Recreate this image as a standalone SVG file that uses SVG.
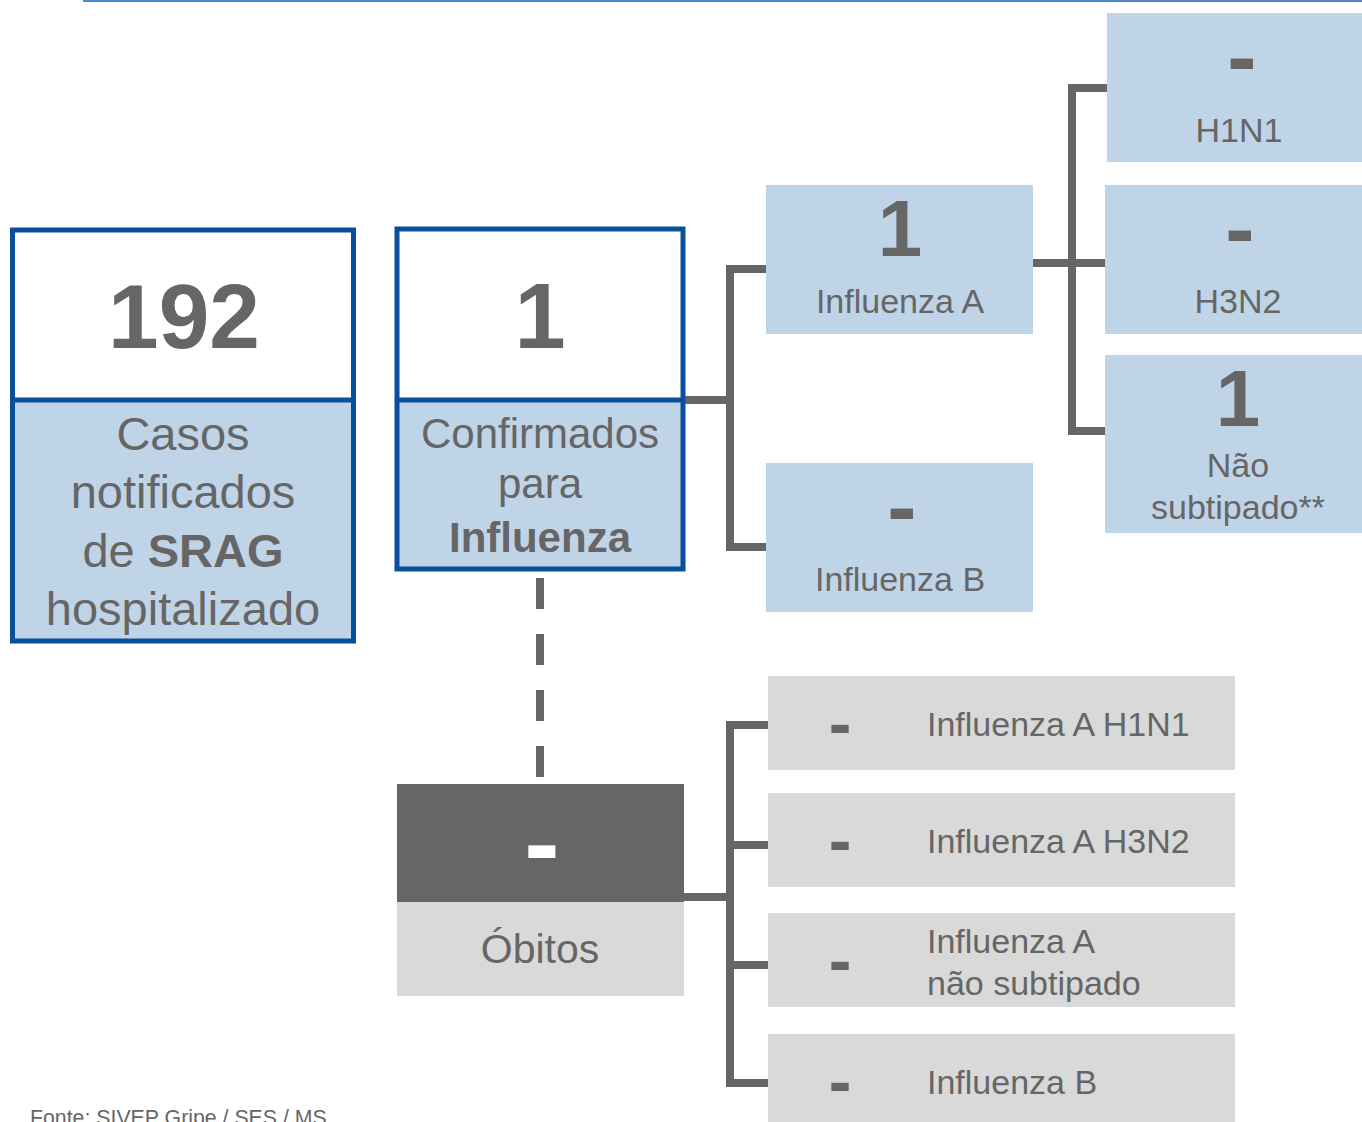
<svg xmlns="http://www.w3.org/2000/svg" width="1362" height="1122" viewBox="0 0 1362 1122">
<style>
text{font-family:"Liberation Sans",Arial,sans-serif;fill:#666666;text-anchor:middle}
.b{font-weight:bold}
.lb{fill:#c0d4e8}
.gr{fill:#d9d9d9}
.bd{fill:none;stroke:#0a4f9e;stroke-width:5}
.cn{fill:none;stroke:#666666;stroke-width:8}
.t34{font-size:34px}
.t33{font-size:34px}
.st{text-anchor:start}
</style>
<rect x="83" y="0" width="1279" height="2" fill="#4a86c8"/>
<g id="connectors">
<path class="cn" d="M683,400 H730"/>
<path class="cn" d="M766,269 H730 V547 H766"/>
<path class="cn" d="M1033,263 H1105"/>
<path class="cn" d="M1107,88 H1072 V431 H1105"/>
<path class="cn" d="M540,578 V778" stroke-dasharray="31 25"/>
<path class="cn" d="M684,897 H730"/>
<path class="cn" d="M768,725 H730 V1083 H768"/>
<path class="cn" d="M730,845 H768"/>
<path class="cn" d="M730,965 H768"/>
</g>
<g id="casos">
<rect x="12.5" y="230" width="341" height="170" fill="#ffffff"/>
<rect class="lb" x="12.5" y="400" width="341" height="241"/>
<rect class="bd" x="12.5" y="230" width="341" height="411"/>
<line x1="12.5" y1="400" x2="353.5" y2="400" stroke="#0a4f9e" stroke-width="5"/>
<text class="b" x="184" y="348" font-size="91">192</text>
<text x="183" y="450" font-size="47">Casos</text>
<text x="183" y="508" font-size="47">notificados</text>
<text x="183" y="567" font-size="47">de <tspan class="b">SRAG</tspan></text>
<text x="183" y="625" font-size="47">hospitalizado</text>
</g>
<g id="confirmados">
<rect x="397" y="229" width="286" height="171" fill="#ffffff"/>
<rect class="lb" x="397" y="400" width="286" height="169"/>
<rect class="bd" x="397" y="229" width="286" height="340"/>
<line x1="397" y1="400" x2="683" y2="400" stroke="#0a4f9e" stroke-width="5"/>
<text class="b" x="540" y="348" font-size="92">1</text>
<text x="540" y="448" font-size="42">Confirmados</text>
<text x="540" y="498" font-size="42">para</text>
<text class="b" x="540" y="552" font-size="42">Influenza</text>
</g>
<g id="influenza-a">
<rect class="lb" x="766" y="185" width="267" height="149"/>
<text class="b" x="900" y="256" font-size="80">1</text>
<text class="t34" x="900" y="313">Influenza A</text>
</g>
<g id="influenza-b">
<rect class="lb" x="766" y="463" width="267" height="149"/>
<text class="b" x="902" y="536" font-size="88">-</text>
<text class="t34" x="900" y="591">Influenza B</text>
</g>
<g id="h1n1">
<rect class="lb" x="1107" y="13" width="255" height="149"/>
<text class="b" x="1242" y="86" font-size="88">-</text>
<text class="t34" x="1239" y="142">H1N1</text>
</g>
<g id="h3n2">
<rect class="lb" x="1105" y="185" width="257" height="149"/>
<text class="b" x="1240" y="258" font-size="88">-</text>
<text class="t34" x="1238" y="313">H3N2</text>
</g>
<g id="nao-subtipado">
<rect class="lb" x="1105" y="355" width="257" height="178"/>
<text class="b" x="1238" y="426" font-size="80">1</text>
<text class="t34" x="1238" y="477">Não</text>
<text class="t34" x="1238" y="519">subtipado**</text>
</g>
<g id="obitos">
<rect x="397" y="784" width="287" height="118" fill="#666666"/>
<rect class="gr" x="397" y="902" width="287" height="94"/>
<text class="b" x="542" y="879" font-size="106" style="fill:#ffffff">-</text>
<text x="540" y="963" font-size="41">Óbitos</text>
</g>
<g id="obito-h1n1">
<rect class="gr" x="768" y="676" width="467" height="94"/>
<text class="b" x="840" y="747" font-size="68">-</text>
<text class="t33 st" x="927" y="736">Influenza A H1N1</text>
</g>
<g id="obito-h3n2">
<rect class="gr" x="768" y="793" width="467" height="94"/>
<text class="b" x="840" y="864" font-size="68">-</text>
<text class="t33 st" x="927" y="853">Influenza A H3N2</text>
</g>
<g id="obito-nao-subtipado">
<rect class="gr" x="768" y="913" width="467" height="94"/>
<text class="b" x="840" y="984" font-size="68">-</text>
<text class="t33 st" x="927" y="953">Influenza A</text>
<text class="t33 st" x="927" y="995">não subtipado</text>
</g>
<g id="obito-b">
<rect class="gr" x="768" y="1034" width="467" height="88"/>
<text class="b" x="840" y="1105" font-size="68">-</text>
<text class="t33 st" x="927" y="1094">Influenza B</text>
</g>
<text class="st" x="30" y="1125" font-size="21.3">Fonte: SIVEP Gripe / SES / MS</text>
</svg>
